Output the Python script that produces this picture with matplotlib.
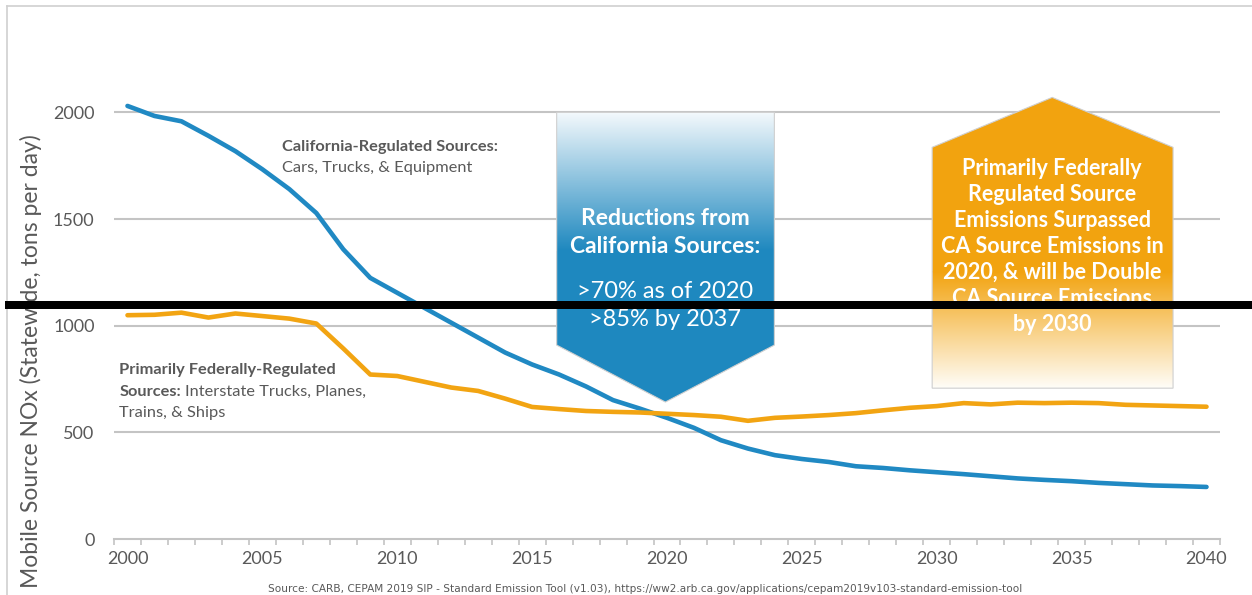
import numpy as np
import matplotlib.pyplot as plt
from matplotlib.patches import Polygon, Rectangle
from matplotlib.colors import to_rgb

# NOx (tons per day)
years = np.arange(2000, 2041)
ca_sources = [2030, 1983, 1958, 1890, 1818, 1733, 1640, 1528, 1358, 1224,
              1154, 1084, 1014, 944, 874, 818, 771, 715, 651, 611,
              568, 521, 463, 424, 393, 375, 361, 341, 333, 322,
              313, 304, 294, 284, 277, 271, 263, 257, 251, 248, 244]
fed_sources = [1049, 1051, 1061, 1038, 1057, 1045, 1033, 1010, 893, 771,
               764, 737, 710, 694, 658, 619, 609, 600, 596, 593,
               587, 581, 573, 554, 568, 574, 581, 590, 603, 615,
               623, 637, 631, 639, 637, 639, 637, 629, 626, 623, 620]
yticks = [0, 500, 1000, 1500, 2000]
xticks = [2000, 2005, 2010, 2015, 2020, 2025, 2030, 2035, 2040]

blue = '#2089C3'
orange = '#F2A412'
grey_txt = '#595959'
grid_c = '#C4C4C4'

plt.rcParams['font.family'] = ['Lato', 'DejaVu Sans']

fig = plt.figure(figsize=(12.52, 5.95), dpi=100)
ax = fig.add_axes([114 / 1252, 56 / 595, 1106 / 1252, 512 / 595])

ax.plot(years, ca_sources, color=blue, lw=3.3, solid_capstyle='round', zorder=3)
ax.plot(years, fed_sources, color=orange, lw=3.3, solid_capstyle='round', zorder=3)

ax.set_xlim(1999.5, 2040.5)
ax.set_ylim(0, 2400)
ax.set_yticks(yticks)
ax.set_xticks(xticks)
ax.set_xticks(np.arange(1999.5, 2041, 1), minor=True)
ax.tick_params(axis='y', length=0, pad=14, labelsize=13, labelcolor=grey_txt)
ax.tick_params(axis='x', which='major', length=0, pad=9, labelsize=13, labelcolor=grey_txt)
ax.tick_params(axis='x', which='minor', length=4, width=1.2, color=grid_c, direction='out')
for s in ['top', 'right', 'left']:
    ax.spines[s].set_visible(False)
ax.spines['bottom'].set_color(grid_c)
ax.spines['bottom'].set_linewidth(1.5)
for v in yticks[1:]:
    ax.axhline(v, color=grid_c, lw=1.5, zorder=1)


def gradient_box(verts, ytop, ybot, c_top, c_bot):
    poly = Polygon(verts, closed=True, facecolor='none', edgecolor='#CFCFCF', lw=0.8, zorder=4)
    ax.add_patch(poly)
    n = 256
    t = np.linspace(0, 1, n)[:, None]
    ct, cb = np.array(to_rgb(c_top)), np.array(to_rgb(c_bot))
    img = (ct * (1 - t) + cb * t)[:, None, :]
    xs = [p[0] for p in verts]
    im = ax.imshow(img, extent=[min(xs), max(xs), ybot, ytop], aspect='auto',
                   origin='upper', zorder=3.5, interpolation='bilinear')
    im.set_clip_path(poly)
    return im


# niebieska strzałka w dół
bx0, bx1, bxm = 2015.91, 2023.98, 2019.94
bverts = [(bx0, 2000), (bx1, 2000), (bx1, 909), (bxm, 642), (bx0, 909)]
gradient_box(bverts, 2000, 1350, '#F4F9FC', '#1E88BF')
ax.add_patch(Polygon([(bx0, 1350), (bx1, 1350), (bx1, 909), (bxm, 642), (bx0, 909)],
                     closed=True, facecolor='#1E88BF', edgecolor='none', zorder=3.6))
ax.text(bxm, 1436, 'Reductions from\nCalifornia Sources:', ha='center', va='center',
        color='white', fontsize=16.5, fontweight='bold', linespacing=1.4, zorder=5)
ax.text(bxm, 1096, '>70% as of 2020\n>85% by 2037', ha='center', va='center',
        color='white', fontsize=17, linespacing=1.42, zorder=5)

# pomarańczowa strzałka w górę
ox0, ox1, oxm = 2029.83, 2038.76, 2034.28
overts = [(ox0, 707), (ox1, 707), (ox1, 1836), (oxm, 2070), (ox0, 1836)]
ax.add_patch(Polygon([(ox0, 1250), (ox1, 1250), (ox1, 1836), (oxm, 2070), (ox0, 1836)],
                     closed=True, facecolor='#F2A30F', edgecolor='none', zorder=3.6))
gradient_box(overts, 1252, 707, '#F2A30F', '#FFFDF8')
ax.text(oxm, 1372, 'Primarily Federally\nRegulated Source\nEmissions Surpassed\n'
        'CA Source Emissions in\n2020, & will be Double\nCA Source Emissions\nby 2030',
        ha='center', va='center', color='white', fontsize=15.5, fontweight='bold',
        linespacing=1.3, zorder=5)

# opisy serii
fs = 11.8
ax.text(2005.72, 1836, 'California-Regulated Sources:', ha='left', va='center',
        color=grey_txt, fontsize=fs, fontweight='bold')
ax.text(2005.72, 1738, 'Cars, Trucks, & Equipment', ha='left', va='center',
        color=grey_txt, fontsize=fs)
ax.text(1999.69, 792, 'Primarily Federally-Regulated', ha='left', va='center',
        color=grey_txt, fontsize=fs, fontweight='bold')
t_src = ax.text(1999.69, 688, 'Sources:', ha='left', va='center',
                color=grey_txt, fontsize=fs, fontweight='bold')
ax.annotate('Interstate Trucks, Planes,', xy=(1, 0.5), xycoords=t_src,
            xytext=(3, 0), textcoords='offset points', ha='left', va='center',
            color=grey_txt, fontsize=fs)
ax.text(1999.69, 590, 'Trains, & Ships', ha='left', va='center',
        color=grey_txt, fontsize=fs)

fig.text(31 / 1252, 1 - 361 / 595, 'Mobile Source NOx (Statewide, tons per day)',
         rotation=90, ha='center', va='center', color=grey_txt, fontsize=16.5)
fig.text(645 / 1252, 1 - 589 / 595,
         'Source: CARB, CEPAM 2019 SIP - Standard Emission Tool (v1.03), '
         'https://ww2.arb.ca.gov/applications/cepam2019v103-standard-emission-tool',
         ha='center', va='center', color=grey_txt, fontsize=7.6,
         family=['Liberation Sans Narrow', 'DejaVu Sans'])

# ramka obszaru wykresu
fig.add_artist(plt.Line2D([7 / 1252, 7 / 1252], [0, 1 - 6 / 595], color='#D0D0D0', lw=1.2))
fig.add_artist(plt.Line2D([7 / 1252, 1], [1 - 6 / 595, 1 - 6 / 595], color='#D0D0D0', lw=1.2))

# czarny pasek
fig.add_artist(Rectangle((5 / 1252, 1 - 309 / 595), 1, 8 / 595, transform=fig.transFigure,
                         facecolor='black', edgecolor='none', zorder=10))

fig.savefig('out.png', dpi=100)
